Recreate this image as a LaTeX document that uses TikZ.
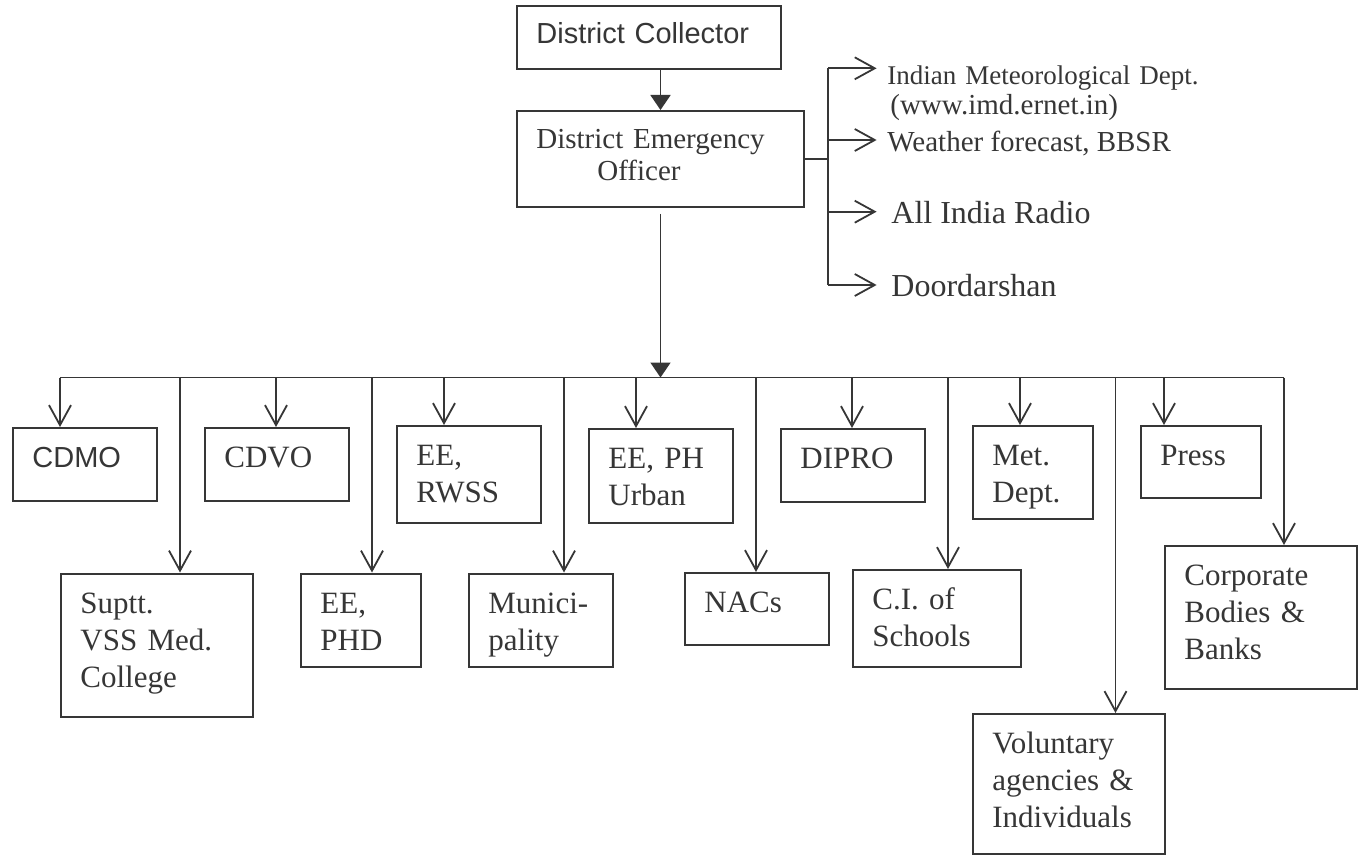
\documentclass[tikz,border=0pt]{standalone}
\usepackage{fontspec}
\setmainfont{Liberation Serif}
\setsansfont{Liberation Sans}
\usepackage{xcolor}
\usepackage{tikz}
\usetikzlibrary{arrows.meta}
\definecolor{ink}{HTML}{363636}
\newcommand\unitfont{\fontsize{15.5}{18.5}\selectfont}
\newcommand\sansunit{\sffamily\fontsize{14.5}{17}\selectfont}
\newcommand\headfont{\fontsize{14.5}{16}\selectfont}

\begin{document}
\begin{tikzpicture}[x=0.5pt,y=-0.5pt]
    \tikzset{
        box/.style 2 args={
            draw=ink,
            line width=1pt,
            anchor=north west,
            minimum width=#1,
            minimum height=#2,
            inner sep=0pt
        },
        tag/.style={
            anchor=base west,
            xshift=10pt,
            yshift=-20.3pt,
            inner sep=0pt,
            text width=140pt,
            align=left,
            text=ink,
            font=\unitfont
        },
        lab/.style={
            anchor=base west,
            inner sep=0pt,
            text=ink
        },
        wire/.style={
            draw=ink,
            line width=0.9pt
        },
        openarrow/.style={
            wire,
            -{Straight Barb[length=10pt,width=11pt]}
        },
        bigarrow/.style={
            wire,
            -{Triangle[length=7.5pt,width=10pt]}
        }
    }
    \path[use as bounding box, fill=white] (0,0) rectangle (1362,856);

    % Top of the chain
    \node[box={132pt}{31.5pt}, label={[tag, yshift=1.15pt, font=\sansunit]north west:District Collector}] (dc) at (516,5) {};
    \node[box={143.5pt}{48pt}, label={[tag, yshift=1.15pt, font=\headfont]north west:{District Emergency\\\hspace*{30.5pt}Officer}}] (deo) at (516,110) {};

    % Warning sources
    \coordinate (s1) at (828.3,68.3);
    \coordinate (s2) at (828.3,140);
    \coordinate (s3) at (828.3,211.7);
    \coordinate (s4) at (828.3,285);
    \node[lab, text width=200pt, align=left, font=\fontsize{13.5}{15}\selectfont] (imd) at (887,85) {Indian Meteorological Dept.\\\hspace*{1.5pt}{\fontsize{14.5}{15}\selectfont(www.imd.ernet.in)}};
    \node[lab, font=\fontsize{14.5}{17}\selectfont] (wfc) at (887,151.7) {Weather forecast, BBSR};
    \node[lab, font=\fontsize{16}{19}\selectfont] (air) at (891,223.3) {All India Radio};
    \node[lab, font=\fontsize{16}{19}\selectfont] (dd)  at (891,296.7) {Doordarshan};

    % Line departments
    \node[box={72pt}{36.5pt}, label={[tag, font=\sansunit]north west:CDMO}] (cdmo) at (12,427) {};
    \node[box={96pt}{71.75pt}, label={[tag]north west:{Suptt.\\VSS Med.\\College}}] (suptt) at (60,572.5) {};
    \node[box={72pt}{36.5pt}, label={[tag]north west:CDVO}] (cdvo) at (204,427) {};
    \node[box={60pt}{46.75pt}, label={[tag]north west:{EE,\\PHD}}] (eephd) at (300,572.5) {};
    \node[box={72pt}{48.5pt}, label={[tag]north west:{EE,\\RWSS}}] (rwss) at (396,425) {};
    \node[box={72pt}{46.75pt}, label={[tag]north west:{Munici-\\pality}}] (munic) at (468,572.5) {};
    \node[box={72pt}{47pt}, label={[tag]north west:{EE, PH\\Urban}}] (urban) at (588,428) {};
    \node[box={72pt}{36pt}, label={[tag]north west:NACs}] (nacs) at (684,572) {};
    \node[box={72pt}{36.5pt}, label={[tag]north west:DIPRO}] (dipro) at (780,428) {};
    \node[box={84pt}{48.5pt}, label={[tag]north west:{C.I. of\\Schools}}] (ci) at (852,569) {};
    \node[box={60pt}{46.5pt}, label={[tag]north west:{Met.\\Dept.}}] (met) at (972,425) {};
    \node[box={96pt}{70pt}, label={[tag]north west:{Voluntary\\agencies \&\\Individuals}}] (vol) at (972,713) {};
    \node[box={60pt}{36pt}, label={[tag]north west:Press}] (press) at (1140,425) {};
    \node[box={96pt}{71.5pt}, label={[tag]north west:{Corporate\\Bodies \&\\Banks}}] (corp) at (1164,545) {};

    \coordinate (busL) at (59.5,377.5);
    \coordinate (busR) at (1284,377.5);

    % Connectors
    \draw[bigarrow] (dc.south -| deo.north) -- (deo.north);
    \draw[bigarrow, shorten <=3pt] (deo.south) -- (deo.south |- busL);
    \draw[wire] (deo.east) -- (deo.east -| s1);
    \draw[wire] (s1) -- (s4);
    \foreach \c/\t in {s1/imd, s2/wfc}
        \draw[openarrow, shorten >=5.2pt] (\c) -- (\c -| \t.west);
    \foreach \c/\t in {s3/air, s4/dd}
        \draw[openarrow, shorten >=7.2pt] (\c) -- (\c -| \t.west);
    \draw[wire] (busL) -- (busR);
    \foreach \b/\x in {cdmo/60, suptt/180, cdvo/276, eephd/372, rwss/444, munic/564, urban/636,
                       nacs/756, dipro/852, ci/948, met/1020, vol/1115.5, press/1164, corp/1284} {
        \coordinate (t\b) at (\x,377.5);
        \draw[openarrow] (t\b) -- (t\b |- \b.north);
    }
\end{tikzpicture}
\end{document}
